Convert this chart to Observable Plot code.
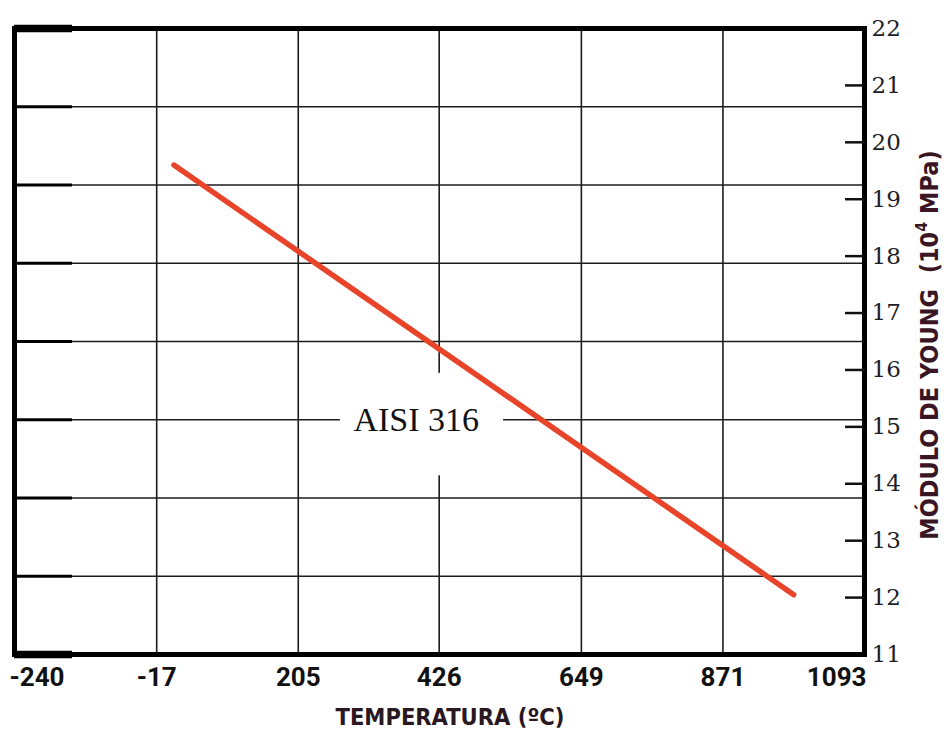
<!DOCTYPE html>
<html>
<head>
<meta charset="utf-8">
<script src="https://cdn.jsdelivr.net/npm/d3@7"></script>
<script src="https://cdn.jsdelivr.net/npm/@observablehq/plot@0.6"></script>
<style>
  html, body { margin: 0; padding: 0; background: #fff; }
  #chart { width: 944px; height: 731px; }
</style>
</head>
<body>
<div id="chart"></div>
<script>
// ---- data ----
const tempC = [10, 982];                 // temperature (°C)
const youngModulus = [19.6, 12.05];      // Young's modulus (10^4 MPa)
const xTicks = [-240, -17, 205, 426, 649, 871, 1093];
const yTicks = [11, 12, 13, 14, 15, 16, 17, 18, 19, 20, 21, 22];
const yInnerTicks = [12, 13, 14, 15, 16, 17, 18, 19, 20, 21];
const gridX = [-17, 205, 426, 649, 871];
const gridY = [12.375, 13.75, 15.125, 16.5, 17.875, 19.25, 20.625];
const seriesName = "AISI 316";
const seriesLabelAt = [390, 15.125];
const seriesLabelBox = [271, 527, 14.14, 15.94];
const xTitle = "TEMPERATURA (ºC)";
const yTitleMain = "MÓDULO DE YOUNG";

const lineData = tempC.map((t, i) => ({t, e: youngModulus[i]}));
const narrow = "'DejaVu Sans Condensed', sans-serif";
const tickFont = "Roboto, 'DejaVu Sans Condensed', sans-serif";

const plot = Plot.plot({
  width: 944,
  height: 731,
  marginLeft: 14,
  marginRight: 80,
  marginTop: 28,
  marginBottom: 77,
  x: {domain: [-240, 1093], axis: null},
  y: {domain: [11, 22], axis: null},
  style: {background: "#fff"},
  marks: [
    Plot.ruleX(gridX, {stroke: "#1c1c1c", strokeWidth: 1.6}),
    Plot.ruleY(gridY, {stroke: "#1c1c1c", strokeWidth: 1.6}),
    Plot.axisY({anchor: "left", ticks: gridY, tickSize: -58, text: null, label: null, strokeWidth: 3, stroke: "#000"}),
    Plot.axisY({anchor: "left", ticks: [11, 22], tickSize: -58, text: null, label: null, strokeWidth: 7.5, stroke: "#000"}),
    Plot.rect([seriesLabelBox], {x1: d => d[0], x2: d => d[1], y1: d => d[2], y2: d => d[3], fill: "#fff"}),
    Plot.text([seriesName], {x: () => seriesLabelAt[0], y: () => seriesLabelAt[1], text: d => d,
      fontFamily: "'Liberation Serif', 'DejaVu Serif', serif", fontSize: 34, fill: "#111"}),
    Plot.line(lineData, {x: "t", y: "e", stroke: "#e8442a", strokeWidth: 5.5, strokeLinecap: "round"}),
    Plot.frame({stroke: "#000", strokeWidth: 5}),
    Plot.axisY({anchor: "right", ticks: yInnerTicks, tickSize: -20, text: null, label: null, strokeWidth: 2.5, stroke: "#111"}),
    Plot.axisY({anchor: "right", ticks: yTicks, tickSize: 0, tickPadding: 7, label: null,
      fontFamily: "'DejaVu Serif', serif", fontSize: 23, fill: "#1e1e28"}),
    Plot.text(xTicks.slice(0, 1), {x: d => d, text: d => String(d), frameAnchor: "bottom", dy: 31, textAnchor: "start", dx: -5,
      fontFamily: tickFont, fontWeight: "bold", fontSize: 26, fill: "#111"}),
    Plot.text(xTicks.slice(1, -1), {x: d => d, text: d => String(d), frameAnchor: "bottom", dy: 31,
      fontFamily: tickFont, fontWeight: "bold", fontSize: 26, fill: "#111"}),
    Plot.text(xTicks.slice(-1), {x: d => d, text: d => String(d), frameAnchor: "bottom", dy: 31, textAnchor: "end", dx: 2,
      fontFamily: tickFont, fontWeight: "bold", fontSize: 26, fill: "#111"})
  ]
});

document.getElementById("chart").appendChild(plot);

// axis titles
const svg = d3.select(plot);
svg.append("text")
  .attr("x", 450).attr("y", 718)
  .attr("text-anchor", "middle").attr("dominant-baseline", "middle")
  .attr("font-family", narrow).attr("font-weight", "bold").attr("font-size", 23.5)
  .attr("fill", "#2a1820")
  .text(xTitle);

const yt = svg.append("text")
  .attr("transform", "translate(931,345) rotate(-90)")
  .attr("text-anchor", "middle").attr("dominant-baseline", "middle")
  .attr("font-family", narrow).attr("font-weight", "bold").attr("font-size", 25)
  .attr("fill", "#3a1624");
yt.append("tspan").text(yTitleMain + "  (10");
yt.append("tspan").attr("dy", -9).attr("font-size", 16).text("4");
yt.append("tspan").attr("dy", 9).text(" MPa)");
</script>
</body>
</html>
